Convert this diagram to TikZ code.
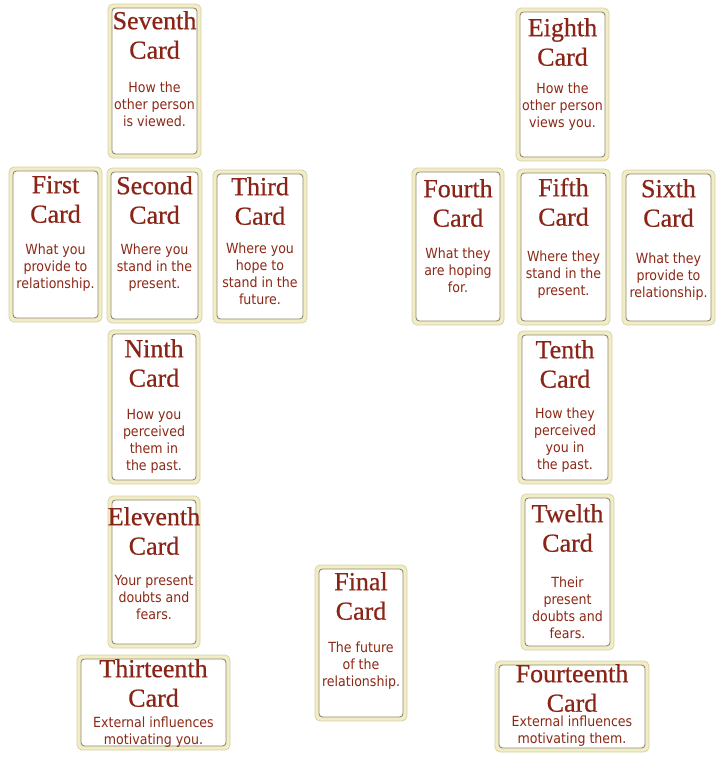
\documentclass[tikz,border=0pt]{standalone}
\usepackage{fontspec}
\newfontfamily\titlefont[FakeBold=0.6]{Liberation Serif}
\newfontfamily\bodyfont{DejaVu Sans Condensed}
\definecolor{cardyellow}{HTML}{F1EDC6}
\definecolor{cardedge}{HTML}{D6D0A4}
\definecolor{cardline}{HTML}{8F8770}
\definecolor{titlered}{HTML}{8A2417}
\definecolor{bodyred}{HTML}{8C2816}
\tikzset{
  cardouter/.style={rectangle, rounded corners=5pt, fill=cardyellow, draw=cardedge, line width=0.7pt, inner sep=0pt, outer sep=0pt},
  cardinner/.style={rectangle, rounded corners=3.5pt, fill=white, draw=cardline, line width=0.9pt, inner sep=0pt, outer sep=0pt},
  titletext/.style={anchor=north, align=center, inner sep=0pt, text=titlered, font={\titlefont\fontsize{26}{29.5}\selectfont}},
  bodytext/.style={anchor=north, align=center, inner sep=0pt, text=bodyred, font={\bodyfont\fontsize{14}{17}\selectfont}}
}
% name, left, top, width, height, first title baseline, first body baseline, title word, body
\newcommand\tcard[9]{%
  \node[cardouter, minimum width=#4pt, minimum height=#5pt] (#1) at (#2+#4/2, #3+#5/2) {};
  \node[cardinner, minimum width=#4pt-8pt, minimum height=#5pt-8pt] (#1-in) at (#1.center) {};
  \node[titletext] (#1-t) at ([yshift={-(#6pt-20.65pt)}]#1.north) {\strut #8\\Card};
  \node[bodytext] (#1-b) at ([yshift={-(#7pt-11.9pt)}]#1.north) {\strut #9};
}
\begin{document}
\begin{tikzpicture}[x=1pt, y=-1pt]
\useasboundingbox[fill=white] (0,0) rectangle (728,761);
\tcard{c7}{108}{4}{93}{154}{25}{88}{Seventh}{How the\\other person\\is viewed.}
\tcard{c8}{516}{8}{93}{153}{28}{85}{Eighth}{How the\\other person\\views you.}
\tcard{c1}{9}{167}{93}{155}{26}{87}{First}{What you\\provide to\\relationship.}
\tcard{c2}{107}{168}{95}{155}{26}{86}{Second}{Where you\\stand in the\\present.}
\tcard{c3}{213}{170}{94}{153}{25}{83}{Third}{Where you\\hope to\\stand in the\\future.}
\tcard{c4}{412}{168}{92}{157}{29}{90}{Fourth}{What they\\are hoping\\for.}
\tcard{c5}{517}{169}{93}{156}{27}{92}{Fifth}{Where they\\stand in the\\present.}
\tcard{c6}{622}{170}{93}{155}{27}{93}{Sixth}{What they\\provide to\\relationship.}
\tcard{c9}{108}{330}{92}{154}{27}{89}{Ninth}{How you\\perceived\\them in\\the past.}
\tcard{c10}{518}{331}{94}{153}{27}{87}{Tenth}{How they\\perceived\\you in\\the past.}
\tcard{c11}{108}{496}{92}{152}{29}{89}{Eleventh}{Your present\\doubts and\\fears.}
\tcard{c12}{521}{494}{93}{156}{28}{93}{Twelth}{Their\\present\\doubts and\\fears.}
\tcard{c13}{77}{655}{153}{95}{22}{72}{Thirteenth}{External influences\\motivating you.}
\tcard{c14}{495}{661}{154}{91}{21}{65}{Fourteenth}{External influences\\motivating them.}
\tcard{cF}{315}{565}{92}{156}{25}{87}{Final}{The future\\of the\\relationship.}
\end{tikzpicture}
\end{document}
